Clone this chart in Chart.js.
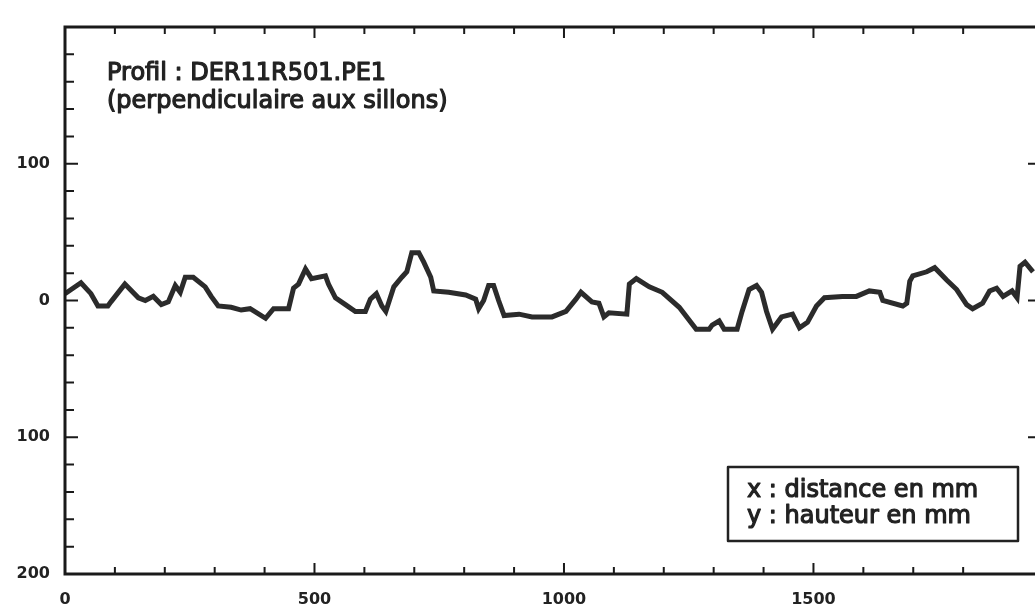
<!DOCTYPE html>
<html>
<head>
<meta charset="utf-8">
<script src="https://cdn.jsdelivr.net/npm/chart.js@4/dist/chart.umd.min.js"></script>
<style>
  html, body { margin: 0; padding: 0; background: #fff; overflow: hidden; }
  #wrap { width: 1040px; height: 615px; }
</style>
</head>
<body>
<div id="wrap"><canvas id="profil" width="1040" height="615"></canvas></div>
<script>
// profil en travers : distance (mm) / hauteur (mm)
const distances = [0, 32, 52, 66, 86, 92, 120, 147, 161, 177, 193, 207, 221, 231, 241, 257, 281, 293, 307, 333,
  353, 371, 402, 418, 448, 458, 468, 482, 494, 522, 528, 542, 562, 582, 602, 612, 624, 635, 643, 659,
  675, 685, 695, 709, 719, 733, 739, 769, 803, 823, 829, 839, 849, 859, 869, 880, 910, 936, 976, 1004,
  1024, 1034, 1056, 1070, 1080, 1090, 1126, 1131, 1145, 1171, 1197, 1231, 1265, 1291, 1297, 1311, 1321, 1347, 1357, 1371,
  1386, 1396, 1406, 1418, 1436, 1458, 1472, 1488, 1506, 1522, 1558, 1586, 1612, 1633, 1639, 1679, 1687, 1693, 1699, 1727,
  1743, 1767, 1787, 1807, 1819, 1839, 1853, 1867, 1880, 1898, 1908, 1914, 1924, 1940];
const hauteurs = [5, 13, 5, -4, -4, -1, 12, 2, 0, 3, -3, -1, 11, 6, 17, 17, 10, 3, -4, -5,
  -7, -6, -13, -6, -6, 9, 12, 23, 16, 18, 12, 2, -3, -8, -8, 1, 5, -4, -8, 10,
  17, 21, 35, 35, 28, 17, 7, 6, 4, 1, -6, 0, 11, 11, 0, -11, -10, -12, -12, -8,
  1, 6, -1, -2, -12, -9, -10, 12, 16, 10, 6, -5, -21, -21, -18, -15, -21, -21, -8, 8,
  11, 6, -8, -21, -12, -10, -20, -16, -4, 2, 3, 3, 7, 6, 0, -4, -2, 14, 18, 21,
  24, 15, 8, -3, -6, -2, 7, 9, 3, 7, 2, 25, 28, 21];
const yLabelled = [100, 0, -100, -200];
const xLabelled = [0, 500, 1000, 1500];
const titre = ['Profil : DER11R501.PE1', '(perpendiculaire aux sillons)'];
const legende = ['x : distance en mm', 'y : hauteur en mm'];

const points = distances.map((d, i) => ({ x: d, y: hauteurs[i] }));

function texte(ctx, s, x, y) {
  ctx.fillText(s, x, y);
  ctx.strokeText(s, x, y); // un peu plus gras, comme le tirage
}

// cadre, graduations internes et textes
const cadre = {
  id: 'cadre',
  afterDraw(chart) {
    const { ctx, chartArea: a, scales: { x, y } } = chart;
    ctx.save();
    ctx.strokeStyle = '#1a1a1a';
    ctx.lineWidth = 3;
    ctx.strokeRect(a.left, a.top, a.right - a.left, a.bottom - a.top);

    ctx.lineWidth = 2;
    ctx.beginPath();
    x.ticks.forEach(t => {
      if (t.value % 100 !== 0) return;
      const px = x.getPixelForValue(t.value);
      const len = t.value % 500 === 0 ? 11 : 7;
      ctx.moveTo(px, a.bottom); ctx.lineTo(px, a.bottom - len);
      ctx.moveTo(px, a.top); ctx.lineTo(px, a.top + len);
    });
    y.ticks.forEach(t => {
      if (t.value % 20 !== 0) return;
      const py = y.getPixelForValue(t.value);
      const major = t.value % 100 === 0;
      ctx.moveTo(a.left, py); ctx.lineTo(a.left + (major ? 13 : 9), py);
      if (major) { ctx.moveTo(a.right, py); ctx.lineTo(a.right - 10, py); }
    });
    ctx.stroke();

    ctx.fillStyle = '#222';
    ctx.strokeStyle = '#222';
    ctx.lineWidth = 1.2;
    ctx.lineJoin = 'round';
    ctx.textBaseline = 'alphabetic';
    ctx.font = '24px "DejaVu Sans", sans-serif';
    texte(ctx, titre[0], 107, 80);
    texte(ctx, titre[1], 107, 108);

    ctx.lineWidth = 2.5;
    ctx.strokeRect(728, 467, 290, 74);
    ctx.lineWidth = 1.2;
    ctx.font = '24px "DejaVu Sans", sans-serif';
    texte(ctx, legende[0], 747, 497);
    texte(ctx, legende[1], 747, 523);
    ctx.restore();
  }
};

new Chart(document.getElementById('profil'), {
  type: 'line',
  data: {
    datasets: [{
      data: points,
      borderColor: '#2b2b2b',
      borderWidth: 5,
      pointRadius: 0,
      tension: 0,
      fill: false
    }]
  },
  options: {
    responsive: false,
    animation: false,
    layout: { padding: { top: 27, right: 2, left: 0, bottom: 0 } },
    plugins: { legend: { display: false }, tooltip: { enabled: false } },
    scales: {
      x: {
        type: 'linear',
        min: 0,
        max: 1950,
        afterFit: s => { s.height = 41; s.paddingRight = 0; s.paddingLeft = 0; },
        border: { display: false },
        grid: { display: false, drawTicks: false },
        ticks: {
          stepSize: 100,
          autoSkip: false,
          maxRotation: 0,
          padding: 16,
          color: '#222',
          font: { family: '"DejaVu Sans", sans-serif', size: 16, weight: 'bold' },
          callback: v => xLabelled.includes(v) ? String(v) : ''
        }
      },
      y: {
        min: -200,
        max: 200,
        afterFit: s => { s.width = 65; },
        border: { display: false },
        grid: { display: false, drawTicks: false },
        ticks: {
          stepSize: 20,
          autoSkip: false,
          padding: 15,
          color: '#222',
          font: { family: '"DejaVu Sans", sans-serif', size: 16, weight: 'bold' },
          callback: v => yLabelled.includes(v) ? String(Math.abs(v)) : ''
        }
      }
    }
  },
  plugins: [cadre]
});
</script>
</body>
</html>
